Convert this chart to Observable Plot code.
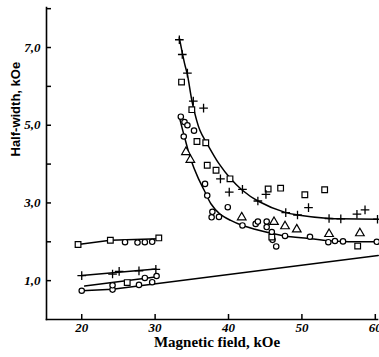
<!DOCTYPE html>
<html>
<head>
<meta charset="utf-8">
<script src="https://cdn.jsdelivr.net/npm/d3@7"></script>
<script src="https://cdn.jsdelivr.net/npm/@observablehq/plot@0.6"></script>
<style>
  html, body { margin: 0; padding: 0; background: #fff; }
  #chart svg { display: block; }
</style>
</head>
<body>
<div id="chart"></div>
<script>
// ---- data (x = magnetic field kOe, y = half-width kOe) ----
const circles = [
  [20.0,0.74],[24.2,0.77],[24.2,0.88],[25.9,1.99],[27.6,1.98],[28.6,1.99],[29.6,2.0],
  [27.8,0.89],[28.6,1.07],[29.6,0.96],[30.2,1.12],
  [33.5,5.22],[34.0,5.08],[34.4,5.0],[35.3,4.86],[33.9,4.71],[36.8,3.49],[37.1,3.19],
  [39.9,2.89],[37.8,2.77],[37.7,2.63],[38.7,2.64],[41.9,2.42],[43.7,2.46],[44.0,2.52],
  [45.2,2.52],[45.2,2.38],[45.9,2.25],[46.0,2.05],[46.5,1.88],[47.7,2.15],[51.1,2.13],
  [53.6,1.99],[54.5,2.02],[55.6,2.01],[60.2,2.0]
];
const squares = [
  [19.5,1.93],[23.9,2.04],[30.5,2.1],[26.2,0.95],
  [33.6,6.11],[35.0,5.40],[35.7,4.58],[36.9,4.55],[37.1,3.97],[38.3,3.84],[40.2,3.62],
  [45.4,3.36],[47.1,3.38],[50.4,3.21],[53.1,3.34],[45.9,2.12],[57.6,1.89]
];
const pluses = [
  [20.0,1.13],[24.2,1.17],[25.1,1.24],[27.8,1.25],[30.1,1.29],
  [33.3,7.2],[33.7,6.82],[34.4,6.34],[35.2,5.62],[36.6,5.44],[38.9,3.62],[40.1,3.28],
  [41.9,3.35],[44.0,3.05],[45.1,3.22],[47.8,2.75],[49.4,2.69],[50.9,2.88],[53.7,2.6],
  [55.3,2.59],[57.5,2.71],[58.6,2.82],[60.3,2.58]
];
const triangles = [
  [34.2,4.31],[34.8,4.11],[41.8,2.63],[46.2,2.51],[47.7,2.4],[49.3,2.32],[53.7,2.2],[57.9,2.22]
];
// fitted lines
const lineSquaresLow = [[19.5,1.93],[23.9,2.04],[30.5,2.08]];
const linePlusLow = [[20.0,1.13],[30.1,1.3]];
const lineCirclesMid = [[20.4,0.86],[30.3,1.1]];
const lineLong = [[20.0,0.74],[24.2,0.78],[60.4,1.65]];
const curveUpper = [
  [33.3,7.25],[34.0,6.6],[34.4,6.3],[35.1,5.55],[36.1,4.87],[37.1,4.52],[38.7,4.01],
  [40.3,3.62],[41.8,3.34],[44.0,3.05],[47.8,2.75],[49.4,2.69],[53.7,2.6],[55.3,2.59],[60.3,2.58]
];
const curveLower = [
  [33.3,5.21],[34.0,4.7],[34.9,4.1],[35.8,3.67],[36.7,3.32],[37.6,2.98],[38.8,2.72],
  [40.3,2.55],[41.9,2.42],[45.8,2.22],[47.6,2.15],[51.2,2.08],[53.5,2.03],[55.6,2.01],[60.4,2.0]
];
// axes
const xDomain = [15.2, 60.3];
const yDomain = [0, 8.03];
const xTicks = [20, 30, 40, 50, 60];
const yTickMarks = [1, 2, 3, 4, 5, 6, 7, 8];
const yTickLabels = [1, 3, 5, 7];
const xTitle = "Magnetic field, kOe";
const yTitle = "Half-width, kOe";

const tickFont = "'Liberation Serif', serif";
const X = d => d[0], Y = d => d[1];
const lineOpts = {x: X, y: Y, stroke: "black", strokeWidth: 1.5};
const dotOpts = {x: X, y: Y, stroke: "black", fill: "white", strokeWidth: 1.2};

const chart = Plot.plot({
  width: 379,
  height: 357,
  marginLeft: 46,
  marginRight: 2,
  marginTop: 7,
  marginBottom: 38,
  x: {domain: xDomain},
  y: {domain: yDomain},
  style: {background: "white", color: "black"},
  marks: [
    Plot.frame({anchor: "left", strokeWidth: 1.6}),
    Plot.frame({anchor: "bottom", strokeWidth: 1.6}),
    Plot.axisY(yTickMarks, {tickSize: 5, dx: 5, tickFormat: () => "", strokeWidth: 1.5}),
    Plot.axisY(yTickLabels, {tickSize: 0, tickPadding: 6, label: null,
      tickFormat: d => d.toFixed(1).replace(".", ","),
      fontSize: 13, fontStyle: "italic", fontWeight: "bold", fontFamily: tickFont}),
    Plot.axisX(xTicks, {tickSize: 5, dy: -5, tickFormat: () => "", strokeWidth: 1.5}),
    Plot.axisX(xTicks, {tickSize: 0, tickPadding: 3, label: null,
      fontSize: 13, fontStyle: "italic", fontWeight: "bold", fontFamily: tickFont}),
    Plot.line(lineSquaresLow, lineOpts),
    Plot.line(linePlusLow, lineOpts),
    Plot.line(lineCirclesMid, lineOpts),
    Plot.line(lineLong, lineOpts),
    Plot.line(curveUpper, {...lineOpts, curve: "catmull-rom"}),
    Plot.line(curveLower, {...lineOpts, curve: "catmull-rom"}),
    Plot.dot(circles, {...dotOpts, symbol: "circle", r: 2.7}),
    Plot.dot(squares, {...dotOpts, symbol: "square", r: 3.2}),
    Plot.dot(triangles, {...dotOpts, symbol: "triangle", r: 3.2}),
    Plot.dot(pluses, {...dotOpts, symbol: "plus", r: 2.9, strokeWidth: 1.3}),
    Plot.text([xTitle], {text: d => d, frameAnchor: "bottom", dy: 27, dx: 5,
      fontSize: 15, fontWeight: "bold", fontFamily: "'Liberation Serif', serif"}),
    Plot.text([yTitle], {text: d => d, frameAnchor: "left", dx: -31, dy: -7, rotate: -90,
      fontSize: 13, fontWeight: "bold", fontFamily: "'Liberation Sans', sans-serif"})
  ]
});
document.getElementById("chart").appendChild(chart);
</script>
</body>
</html>
